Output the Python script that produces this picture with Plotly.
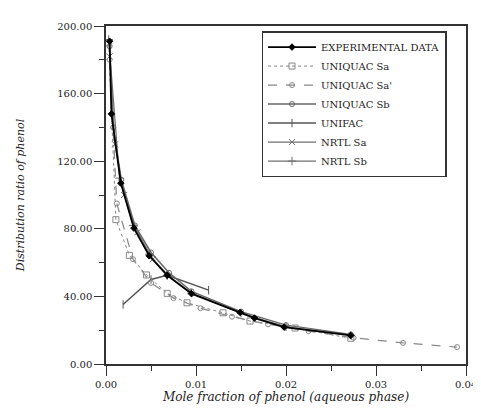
import plotly.graph_objects as go

# ---- data ----
exp_x = [0.0004, 0.0006, 0.00165, 0.0031, 0.0048, 0.0068, 0.0095, 0.0149, 0.0165, 0.0198, 0.0272]
exp_y = [191, 148, 107, 80.4, 64, 52.5, 41.6, 30.5, 27.2, 21.8, 16.9]

uqsa_x = [0.0003, 0.0011, 0.0026, 0.0045, 0.0068, 0.0090, 0.0130, 0.0160, 0.0210, 0.0272]
uqsa_y = [190, 85.4, 64.3, 52.7, 41.8, 36.2, 30.3, 25.4, 21.3, 15.2]

uqsa2_x = [0.0004, 0.0012, 0.0030, 0.0050, 0.0075, 0.0105, 0.0140, 0.0180, 0.0225, 0.0275, 0.0330, 0.0390]
uqsa2_y = [180, 95, 62, 48, 39, 33, 28, 23.5, 19.5, 15.5, 12.5, 10]

uqsb_x = [0.0004, 0.0008, 0.0017, 0.0032, 0.0050, 0.0070, 0.0095, 0.0150, 0.0200, 0.0272]
uqsb_y = [188, 140, 109, 82, 66, 54, 43, 31, 23, 17.5]

unifac_x = [0.0019, 0.0050, 0.0068, 0.0114]
unifac_y = [35.2, 50, 52.5, 43.7]

nrtlsa_x = [0.0004, 0.0010, 0.0020, 0.0035, 0.0052, 0.0070]
nrtlsa_y = [182, 130, 100, 78, 62, 52]

nrtlsb_x = [0.0003, 0.0015, 0.0030, 0.0048, 0.0068, 0.0095, 0.0150, 0.0200, 0.0272]
nrtlsb_y = [192, 110, 82, 65, 52.5, 42, 30, 22, 17]

names = ["EXPERIMENTAL DATA", "UNIQUAC Sa", "UNIQUAC Sa'", "UNIQUAC Sb", "UNIFAC", "NRTL Sa", "NRTL Sb"]

y_ticks = [0, 40, 80, 120, 160, 200]
x_ticks = [0.00, 0.01, 0.02, 0.03, 0.04]

SERIF = "DejaVu Serif"
INK = "#222222"

fig = go.Figure()

def add(x, y, name, color, width, dash, symbol, size=6):
    fig.add_trace(go.Scatter(
        x=x, y=y, name=name, mode="lines+markers",
        line=dict(color=color, width=width, dash=dash),
        marker=dict(symbol=symbol, size=size, color=color,
                    line=dict(color=color, width=1)),
    ))

add(nrtlsb_x, nrtlsb_y, names[6], "#6e6e6e", 1.2, "solid", "cross-thin-open", 6)
add(nrtlsa_x, nrtlsa_y, names[5], "#6e6e6e", 1.2, "solid", "x-thin-open", 6)
add(unifac_x, unifac_y, names[4], "#555555", 1.5, "solid", "line-ns-open", 6)
add(uqsb_x, uqsb_y, names[3], "#666666", 1.5, "solid", "circle-open", 5)
add(uqsa2_x, uqsa2_y, names[2], "#888888", 1.2, "dash", "circle-open", 5)
add(uqsa_x, uqsa_y, names[1], "#888888", 1.0, "dot", "square-open", 6)
add(exp_x, exp_y, names[0], "#000000", 1.8, "solid", "diamond", 5)

fig.update_layout(
    width=481, height=410,
    margin=dict(l=98, r=13, t=18, b=54),
    paper_bgcolor="white", plot_bgcolor="white",
    showlegend=True,
    legend=dict(
        x=0.432, y=0.985, xanchor="left", yanchor="top",
        traceorder="reversed",
        bordercolor="#333333", borderwidth=1.5, bgcolor="white",
        font=dict(family=SERIF, size=10, color=INK),
        itemwidth=48, tracegroupgap=0,
    ),
    font=dict(family=SERIF, color=INK),
)

fig.update_xaxes(
    range=[0, 0.04], tickvals=x_ticks, tickformat=".2f",
    showline=True, linecolor="#333333", linewidth=1.5, mirror=True,
    ticks="outside", ticklen=10, tickcolor="#333333", tickwidth=1.2,
    minor=dict(dtick=0.005, ticks="outside", ticklen=5, tickcolor="#333333"),
    showgrid=False, zeroline=False,
    tickfont=dict(family=SERIF, size=10, color=INK),
    title=dict(text="<i>Mole fraction of phenol (aqueous phase)</i>",
               font=dict(family=SERIF, size=12, color=INK), standoff=2),
)
fig.update_yaxes(
    range=[0, 200], tickvals=y_ticks, tickformat=".2f",
    showline=True, linecolor="#333333", linewidth=1.5, mirror=True,
    ticks="outside", ticklen=10, tickcolor="#333333", tickwidth=1.2,
    minor=dict(dtick=20, ticks="outside", ticklen=5, tickcolor="#333333"),
    showgrid=False, zeroline=False,
    tickfont=dict(family=SERIF, size=10, color=INK),
    title=dict(text="<i>Distribution ratio of phenol</i>",
               font=dict(family=SERIF, size=11, color=INK), standoff=30),
)

fig.write_html("out.html")
